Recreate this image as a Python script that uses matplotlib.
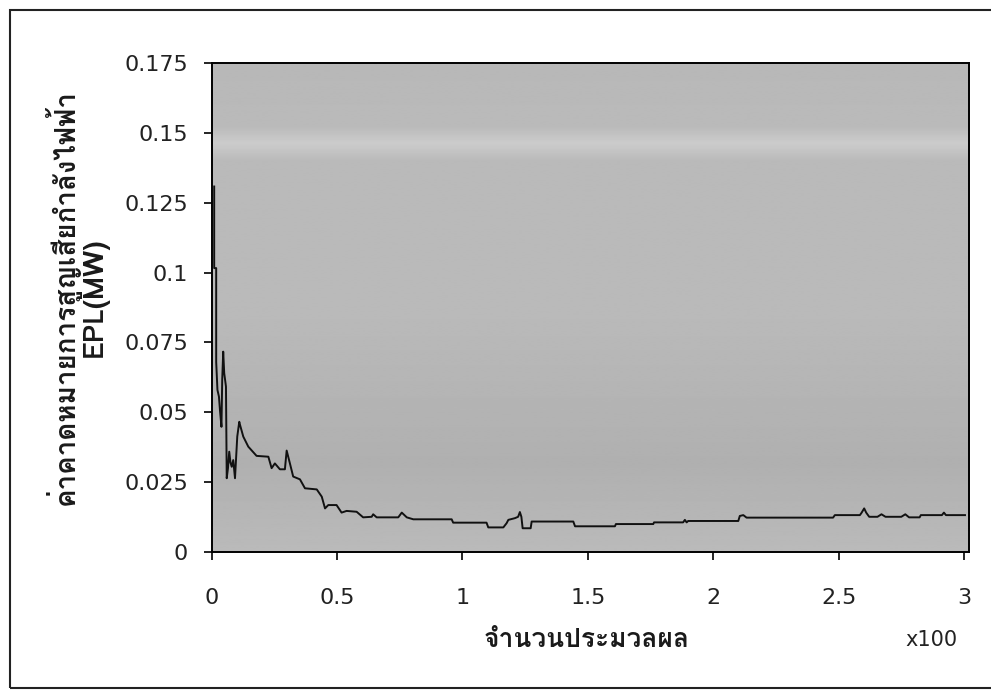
import matplotlib

matplotlib.use("Agg")
import matplotlib.pyplot as plt
import numpy as np
from matplotlib import font_manager
from matplotlib.ft2font import FT2Font
from matplotlib.patches import Rectangle

# iteration number (x100 on the axis) and expected power loss EPL (MW)
ITER = [1.0, 1.0, 1.8, 1.8, 2.3, 2.9, 3.3, 3.9, 4.2, 4.6, 5.0, 5.7, 6.0, 6.5,
        7.0, 7.5, 8.0, 8.6, 9.3, 10.2, 11.0, 11.3, 12.6, 14.6, 17.9, 22.6,
        23.9, 25.2, 27.2, 29.2, 29.9, 31.2, 32.5, 35.2, 37.2, 41.9, 43.9,
        45.2, 46.5, 49.8, 51.8, 53.8, 57.8, 60.4, 63.8, 64.4, 65.8, 74.4,
        75.8, 77.8, 80.4, 95.7, 96.3, 109.6, 110.3, 116.3, 117.6, 118.3,
        120.9, 122.2, 122.9, 123.5, 124.0, 127.2, 127.6, 144.2, 144.9, 160.8,
        161.2, 176.1, 176.4, 188.0, 188.7, 189.4, 190.0, 210.0, 210.6, 212.0,
        213.3, 247.8, 248.5, 258.5, 259.2, 260.2, 261.0, 262.2, 265.5, 267.1,
        268.7, 275.0, 276.6, 278.1, 282.3, 282.8, 291.2, 292.0, 292.8, 300.4]
EPL = [0.1308, 0.1016, 0.1016, 0.0680, 0.0580, 0.0556, 0.0508, 0.0448,
       0.0616, 0.0717, 0.0640, 0.0592, 0.0264, 0.0300, 0.0359, 0.0320,
       0.0305, 0.0329, 0.0264, 0.0413, 0.0466, 0.0455, 0.0413, 0.0377,
       0.0344, 0.0341, 0.0300, 0.0317, 0.0296, 0.0296, 0.0363, 0.0317,
       0.0270, 0.0260, 0.0228, 0.0224, 0.0198, 0.0156, 0.0168, 0.0168,
       0.0141, 0.0147, 0.0144, 0.0124, 0.0126, 0.0135, 0.0124, 0.0124,
       0.0141, 0.0124, 0.0117, 0.0117, 0.0105, 0.0105, 0.0088, 0.0088,
       0.0103, 0.0115, 0.0121, 0.0126, 0.0143, 0.0126, 0.0085, 0.0085,
       0.0109, 0.0109, 0.0092, 0.0092, 0.0100, 0.0100, 0.0106, 0.0106,
       0.0115, 0.0106, 0.0111, 0.0111, 0.0129, 0.0132, 0.0123, 0.0123,
       0.0132, 0.0132, 0.0141, 0.0156, 0.0141, 0.0126, 0.0126, 0.0135,
       0.0126, 0.0126, 0.0135, 0.0124, 0.0124, 0.0132, 0.0132, 0.0141,
       0.0132, 0.0132]

X_TICKS = [0, 0.5, 1, 1.5, 2, 2.5, 3]
X_TICKLABELS = ["0", "0.5", "1", "1.5", "2", "2.5", "3"]
Y_TICKS = [0, 0.025, 0.05, 0.075, 0.1, 0.125, 0.15, 0.175]
Y_TICKLABELS = ["0", "0.025", "0.05", "0.075", "0.1", "0.125", "0.15", "0.175"]

YLABEL = "ค่าคาดหมายการสูญเสียกำลังไฟฟ้า\nEPL(MW)"
XLABEL = "จำนวนประมวลผล"
UNIT = "x100"

# scanned grey plot area: shade from top (0) to bottom (1)
SHADE_POS = [0.0, 0.13, 0.165, 0.20, 0.5, 0.82, 1.0]
SHADE_VAL = [0.72, 0.73, 0.80, 0.73, 0.73, 0.69, 0.73]


def thai_font():
    # pick the first installed family that has Thai glyphs
    for f in font_manager.fontManager.ttflist:
        try:
            if 0x0E08 in FT2Font(f.fname).get_charmap():
                return f.name
        except Exception:
            pass
    return "DejaVu Sans"


def main():
    th = thai_font()
    fig = plt.figure(figsize=(9.91, 6.9), dpi=100)
    fig.patch.set_facecolor("white")
    ax = fig.add_axes([0.2136, 0.2, 0.7642, 0.7087])

    shade = np.interp(np.linspace(0, 1, 300), SHADE_POS, SHADE_VAL)
    ax.imshow(shade[:, None], cmap="gray", vmin=0, vmax=1, aspect="auto",
              extent=(0, 3.02, 0, 0.175), origin="upper", zorder=0,
              interpolation="bilinear")

    ax.plot([i / 100 for i in ITER], EPL, color="#111111", lw=1.4, zorder=3)

    ax.set_xlim(0, 3.02)
    ax.set_ylim(0, 0.175)
    ax.set_xticks(X_TICKS)
    ax.set_xticklabels(X_TICKLABELS)
    ax.set_yticks(Y_TICKS)
    ax.set_yticklabels(Y_TICKLABELS)
    ax.tick_params(axis="both", direction="out", length=6, width=1.2,
                   color="black", labelsize=16, labelcolor="#222222")
    ax.tick_params(axis="x", pad=20)
    ax.tick_params(axis="y", pad=11)
    for sp in ax.spines.values():
        sp.set_color("black")
        sp.set_linewidth(1.4)

    fig.text(0.592, 1 - 640 / 690, XLABEL, family=[th, "DejaVu Sans"],
             fontsize=19, fontweight="bold", ha="center", va="center",
             color="#1a1a1a")
    fig.text(958 / 991, 1 - 640 / 690, UNIT, fontsize=15, ha="right",
             va="center", color="#222222")
    fig.text(76 / 991, 1 - 297 / 690, YLABEL, family=[th, "DejaVu Sans"],
             fontsize=20, fontweight="bold", rotation=90, ha="center",
             va="center", multialignment="center", linespacing=1.05,
             color="#1a1a1a")

    # scanned page frame
    fig.add_artist(Rectangle((10 / 991, 2 / 690), 1.2, 678 / 690,
                             transform=fig.transFigure, fill=False,
                             ec="#222222", lw=1.5))

    fig.savefig("out.png", dpi=100)
    plt.close(fig)


if __name__ == "__main__":
    main()
